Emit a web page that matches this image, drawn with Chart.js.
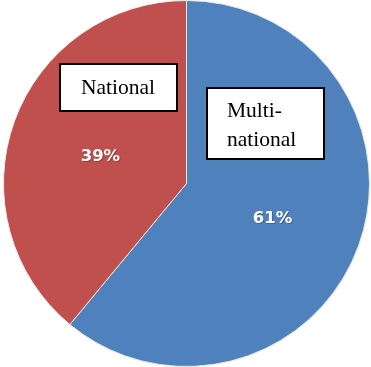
<!DOCTYPE html>
<html>
<head>
<meta charset="utf-8">
<script src="https://cdn.jsdelivr.net/npm/chart.js@4"></script>
<style>
  html, body { margin: 0; padding: 0; background: #ffffff; }
  #wrap { position: relative; width: 371px; height: 367px; }
</style>
</head>
<body>
<div id="wrap"><canvas id="c"></canvas></div>
<script>
// Data
const categories = ['Multi-national', 'National'];
const shares = [61, 39];
const percentLabels = ['61%', '39%'];
const sliceColors = ['#4F81BD', '#C0504D'];
// Call-out text boxes (lines of text per category)
const boxLines = [['Multi-', 'national'], ['National']];

const labelPlugin = {
  id: 'labels',
  afterDatasetsDraw(chart) {
    const ctx = chart.ctx;
    const meta = chart.getDatasetMeta(0);
    ctx.save();
    // percentage labels at slice centers
    ctx.font = 'bold 16.5px "DejaVu Sans", sans-serif';
    ctx.textAlign = 'center';
    ctx.textBaseline = 'middle';
    meta.data.forEach((arc, i) => {
      const p = arc.getCenterPoint();
      const y = p.y + 4;
      ctx.fillStyle = 'rgba(0,0,0,0.25)';
      ctx.fillText(percentLabels[i], p.x + 1, y + 1);
      ctx.fillStyle = '#ffffff';
      ctx.fillText(percentLabels[i], p.x, y);
    });
    // call-out boxes
    const boxes = [
      { x: 207, y: 88, w: 117, h: 71, tx: 227, ty: [117, 146], align: 'left' },
      { x: 60, y: 64, w: 117, h: 47, tx: 118, ty: [94], align: 'center' }
    ];
    boxes.forEach((b, i) => {
      ctx.fillStyle = '#ffffff';
      ctx.fillRect(b.x, b.y, b.w, b.h);
      ctx.lineWidth = 2;
      ctx.strokeStyle = '#000000';
      ctx.strokeRect(b.x, b.y, b.w, b.h);
      ctx.fillStyle = '#000000';
      ctx.font = '21.5px "Liberation Serif", "Times New Roman", serif';
      ctx.textAlign = b.align;
      ctx.textBaseline = 'alphabetic';
      boxLines[i].forEach((line, j) => ctx.fillText(line, b.tx, b.ty[j]));
    });
    ctx.restore();
  }
};

new Chart(document.getElementById('c'), {
  type: 'pie',
  data: {
    labels: categories,
    datasets: [{
      data: shares,
      backgroundColor: sliceColors,
      borderColor: '#e8e8e8',
      borderWidth: 1
    }]
  },
  options: {
    responsive: true,
    maintainAspectRatio: false,
    animation: false,
    layout: { padding: { left: 2, top: 0, right: 0, bottom: 0 } },
    plugins: {
      legend: { display: false },
      tooltip: { enabled: false }
    }
  },
  plugins: [labelPlugin]
});
</script>
</body>
</html>
